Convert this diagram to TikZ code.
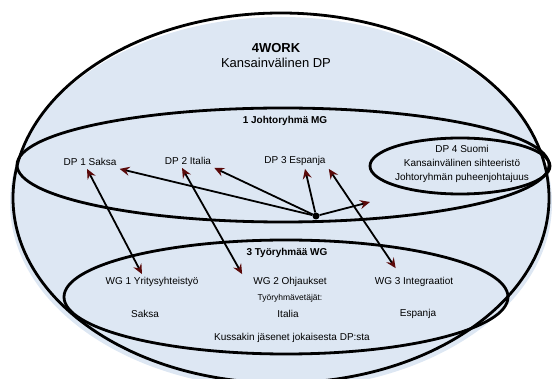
\documentclass[tikz,border=0pt]{standalone}
\usepackage{fontspec}
\setmainfont{Liberation Sans}
\usetikzlibrary{shapes, arrows.meta}

\definecolor{bgblue}{RGB}{221,231,243}
\definecolor{tipred}{RGB}{90,10,10}

\tikzset{
    dptip/.tip={Stealth[length=10pt,width=9pt,inset=3.5pt,color=tipred,fill=black]},
    ring/.style={draw=black, line width=2.8pt},
    link/.style={line width=1.8pt, -dptip},
    twoway/.style={line width=1.8pt, dptip-dptip},
    lbl/.style={font=\fontsize{10}{12}\selectfont, inner sep=3pt},
    grouplbl/.style={font=\fontsize{10}{12}\selectfont\bfseries, inner sep=3pt}
}

\begin{document}
\begin{tikzpicture}[x=1pt, y=-1pt]
            \useasboundingbox (0,0) rectangle (552,379);
            \clip (0,0) rectangle (552,379);

            \fill[bgblue] (281,203) ellipse [x radius=271, y radius=186];
            \draw[ring] (281,198) ellipse [x radius=268, y radius=185];
            \draw[ring] (283,165) ellipse [x radius=266, y radius=57];
            \draw[ring] (460,166) ellipse [x radius=90, y radius=28];
            \draw[ring] (286,297) ellipse [x radius=222, y radius=57];

            \node (title) at (276,56) [align=center, font=\fontsize{13}{15}\selectfont] {\textbf{4WORK}\\Kansainvälinen DP};
            \node (mg) at (285,121) [grouplbl] {1 Johtoryhmä MG};
            \node (dp1) at (90,162) [lbl] {DP 1 Saksa};
            \node (dp2) at (188,161) [lbl] {DP 2 Italia};
            \node (dp3) at (295,161) [lbl] {DP 3 Espanja};
            \node (dp4) at (462,164) [lbl, align=center, font=\fontsize{10}{14}\selectfont] {DP 4 Suomi\\Kansainvälinen sihteeristö\\Johtoryhmän puheenjohtajuus};
            \node (hub) at (316,216) [circle, fill=black, inner sep=0pt, minimum size=7pt] {};
            \coordinate (free) at (370,202);

            \node (wg) at (287,253) [grouplbl] {3 Työryhmää WG};
            \node (wg1) at (152,282) [lbl] {WG 1 Yritysyhteistyö};
            \node (wg2) at (290,282) [lbl] {WG 2 Ohjaukset};
            \node (wg3) at (414,282) [lbl] {WG 3 Integraatiot};
            \node (lead) at (290,298) [font=\fontsize{8.5}{10}\selectfont] {Työryhmävetäjät:};
            \node (lead1) at (145,314) [lbl] {Saksa};
            \node (lead2) at (288,314) [lbl] {Italia};
            \node (lead3) at (418,314) [lbl] {Espanja};
            \node (members) at (292,338) [lbl] {Kussakin jäsenet jokaisesta DP:sta};

            \draw[twoway] ([xshift=-3pt]dp1.south) -- ([xshift=-10pt]wg1.north);
            \draw[twoway] ([xshift=-6pt]dp2.south) -- ([xshift=-8pt]wg2.north west);
            \draw[twoway] (dp3.south east) -- ([shift={(24pt,6pt)}]wg3.north west);
            \draw[link] (hub) -- (dp1.south east);
            \draw[link] (hub) -- (dp2.south east);
            \draw[link] (hub) -- ([xshift=10pt]dp3.south);
            \draw[link] (hub) -- (free);
        \end{tikzpicture}
\end{document}
